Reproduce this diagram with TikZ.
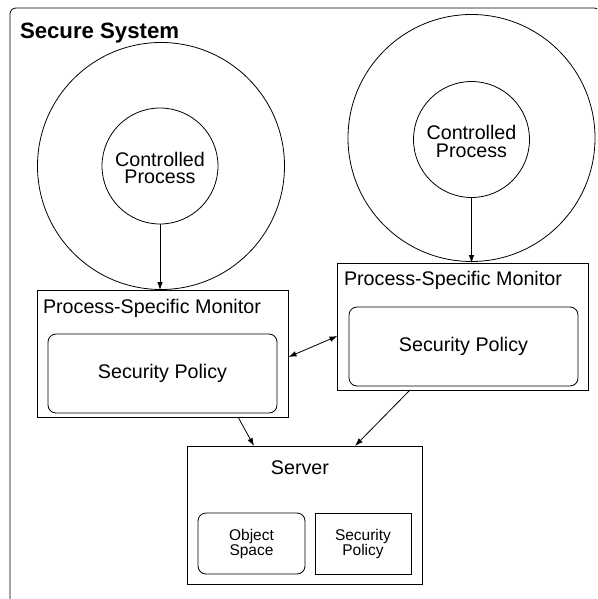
\documentclass[tikz,border=0pt]{standalone}
\usepackage{fontspec}
\setmainfont{Liberation Sans}
\usetikzlibrary{arrows.meta}
\begin{document}
\begin{tikzpicture}[x=1pt, y=-1pt, line width=0.8pt,
  every node/.style={inner sep=0pt, outer sep=0pt},
  outerring/.style={draw, circle, minimum size=247pt},
  innerring/.style={draw, circle, minimum size=116pt},
  monbox/.style={draw, rectangle, minimum width=251pt, minimum height=127pt},
  policybox/.style={draw, rounded corners=8pt, minimum width=229pt, minimum height=79pt, txt},
  txt/.style={font=\fontsize{19.7}{17.5}\selectfont},
  smalltxt/.style={font=\fontsize{15.5}{15}\selectfont, align=center},
  arr/.style={-{Latex[length=8pt,width=5.5pt]}},
  dblarr/.style={{Latex[length=8pt,width=5.5pt]}-{Latex[length=8pt,width=5.5pt]}}]

\useasboundingbox (0,0) rectangle (597,599);
\clip (0,0) rectangle (597,599);

% enclosing system frame (runs past the page on the right and bottom)
\draw[rounded corners=6pt] (10,8) rectangle (600,640);
\node[anchor=base west, font=\fontsize{22.2}{24}\selectfont\bfseries] (title) at (20,39) {Secure System};

% left controlled process
\node[outerring] (lout) at (161,166) {};
\node[innerring] (lin) at (160,166) {};
\node[txt, align=center] (lintxt) at (160,168) {Controlled\\Process};

% right controlled process
\node[outerring] (rout) at (471.5,138) {};
\node[innerring] (rin) at (471.5,139.5) {};
\node[txt, align=center] (rintxt) at (471.5,141.5) {Controlled\\Process};

% process-specific monitors
\node[monbox] (lmon) at (163,353.5) {};
\node[txt, anchor=base west] (lmontxt) at (43,313) {Process-Specific Monitor};
\node[policybox] (lpol) at (162.5,373.5) {Security Policy};

\node[monbox] (rmon) at (463,326.5) {};
\node[txt, anchor=base west] (rmontxt) at (344,285) {Process-Specific Monitor};
\node[policybox] (rpol) at (463.5,346.5) {Security Policy};

% server
\node[draw, minimum width=235pt, minimum height=138pt] (srv) at (304.5,515) {};
\node[txt, anchor=base] (srvtxt) at (300,474) {Server};
\node[draw, rounded corners=8pt, minimum width=107pt, minimum height=61pt, smalltxt] (obj) at (251.5,543.5) {Object\\Space};
\node[draw, minimum width=96pt, minimum height=61pt, smalltxt] (spol) at (363,543.5) {Security\\Policy};

% connectors
\draw[arr] (lin.south) -- (lin.south |- lmon.north);
\draw[arr] (rin.south) -- (rin.south |- rmon.north);
\draw[dblarr] ([yshift=-3.5pt]lmon.east) -- ([yshift=-9.5pt]rmon.west);
\draw[arr] ([xshift=75pt]lmon.south) -- ([xshift=-50.5pt]srv.north);
\draw[arr] ([xshift=-53pt]rmon.south) -- ([xshift=50.5pt]srv.north);
\end{tikzpicture}
\end{document}
